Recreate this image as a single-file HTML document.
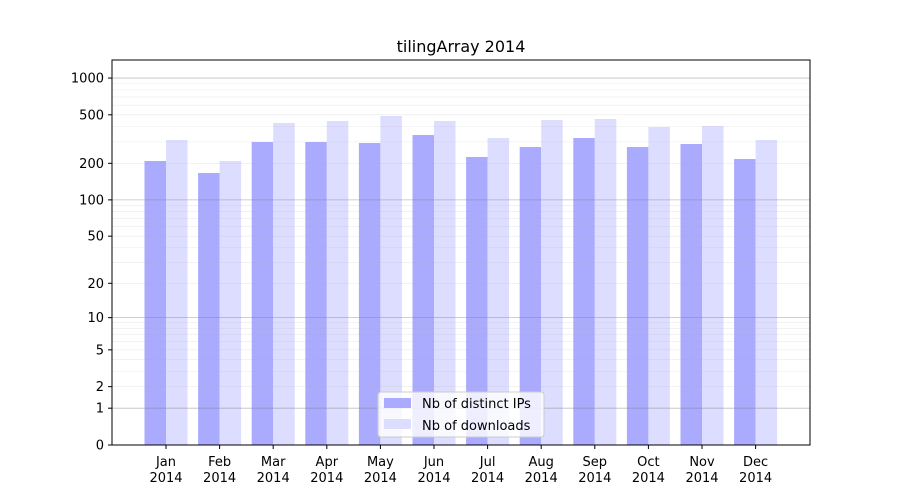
<!DOCTYPE html>
<html><head><meta charset="utf-8"><style>body{margin:0;background:#fff}svg{display:block}</style></head>
<body>
<svg id="s" width="900" height="500" xmlns="http://www.w3.org/2000/svg" font-family="DejaVu Sans, Liberation Sans, sans-serif" font-size="13">
<rect width="900" height="500" fill="#fff"/>
<g id="bars"></g>
<g id="grid"></g>
<rect x="112" y="60" width="698" height="385" fill="none" stroke="#000" stroke-width="1"/>
<g id="ticks"></g>
<text x="461" y="52" text-anchor="middle" font-size="16">tilingArray 2014</text>
<g>
<rect x="378" y="392" width="166" height="45" rx="3" fill="#fff" fill-opacity="0.8" stroke="#ccc"/>
<rect x="384" y="398" width="27" height="10" fill="#aaaaff"/>
<text x="422" y="408">Nb of distinct IPs</text>
<rect x="384" y="419" width="27" height="10" fill="#ddddff"/>
<text x="422" y="430">Nb of downloads</text>
</g>
</svg>
<script>
var NS="http://www.w3.org/2000/svg";
function el(p,t,a,txt){var e=document.createElementNS(NS,t);for(var k in a)e.setAttribute(k,a[k]);if(txt!=null)e.textContent=txt;document.getElementById(p).appendChild(e);}
function Y(v){return 445-122.3*Math.log10(v+1);}
var dec=[1,10,100,1000];
dec.forEach(function(d){for(var m=1;m<10;m++){var v=d*m;if(v>1400)break;var y=Y(v);
el("grid","line",{x1:112,x2:810,y1:y,y2:y,stroke:m==1?"#808080":"#b0b0b0","stroke-opacity":m==1?0.5:0.25,"stroke-width":m==1?0.8:0.6});}});
var ticks=[0,1,2,5,10,20,50,100,200,500,1000];
ticks.forEach(function(v){var y=Y(v);el("ticks","line",{x1:108,x2:112,y1:y,y2:y,stroke:"#000"});
el("ticks","text",{x:104,y:y+4.5,"text-anchor":"end"},String(v));});
var ip=[161,173,142,142,143,135,157,147,138,147,144,159];
var dl=[140,161,123,121,116,121,138,120,119,127,126,140];
var mo=["Jan","Feb","Mar","Apr","May","Jun","Jul","Aug","Sep","Oct","Nov","Dec"];
for(var i=0;i<12;i++){var c=166+i*53.6;
el("bars","rect",{x:c-21.5,y:ip[i],width:21.5,height:445-ip[i],fill:"#aaaaff"});
el("bars","rect",{x:c,y:dl[i],width:21.5,height:445-dl[i],fill:"#ddddff"});
el("ticks","line",{x1:c,x2:c,y1:445,y2:449,stroke:"#000"});
el("ticks","text",{x:c,y:466,"text-anchor":"middle"},mo[i]);
el("ticks","text",{x:c,y:482,"text-anchor":"middle"},"2014");}
</script>
</body></html>
